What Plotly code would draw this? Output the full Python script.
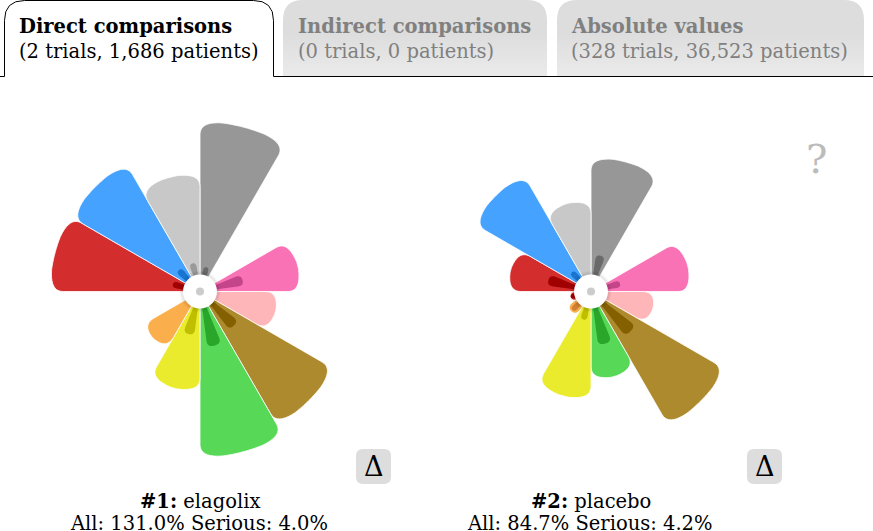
import math

import plotly.graph_objects as go

W, H = 873, 531

# one entry per 30 degree slot, clockwise from north (None = nothing drawn)
categories = ["gray", "gap", "pink", "pale pink", "brown", "green",
              "yellow", "orange", "dark red", "red", "blue", "light gray"]
colors = ["#979797", "#ffffff", "#f972b5", "#ffb6b9", "#ae8a2e", "#57d957",
          "#ebeb2d", "#fbae4c", "#d32d2d", "#d32d2d", "#45a2ff", "#c8c8c8"]
dark_colors = ["#6a6a6a", "#ffffff", "#c4458a", "#d98f92", "#846000", "#2aa72a",
               "#bfbf00", "#d08030", "#a00000", "#a00000", "#1a75d0", "#9a9a9a"]

elagolix_all = [170, None, 101, 78, 154, 166, 100, 66, None, 150, 148, 118]
elagolix_serious = [25, None, 44, None, 48, 56, 44, None, None, 28, 30, 29]
placebo_all = [134, None, 100, 64, 155, 88, 108, 28, 21, 83, 135, 91]
placebo_serious = [37, None, 30, None, 56, 54, 29, 26, 21, 44, 27, None]

tab_titles = ["Direct comparisons", "Indirect comparisons", "Absolute values"]
tab_counts = ["(2 trials, 1,686 patients)", "(0 trials, 0 patients)", "(328 trials, 36,523 patients)"]
rank_labels = ["#1:", "#2:"]
drug_names = ["elagolix", "placebo"]
summaries = ["All: 131.0% Serious: 4.0%", "All: 84.7% Serious: 4.2%"]

FONT = "DejaVu Serif"
SLOT = 30
CENTERS = [200, 591]
CENTER_Y = 291.5
R_MAX = 180


def px_x(x):
    return x / W


def px_y(y):
    return 1 - y / H


def _rounded(x0, y0, x1, y1, r):
    return (f"M{x0},{y1} L{x0},{y0 + r} Q{x0},{y0} {x0 + r},{y0} L{x1 - r},{y0} "
            f"Q{x1},{y0} {x1},{y0 + r} L{x1},{y1}")


def _button(x0, y0, x1, y1, r):
    return (f"M{x0},{y1 - r} L{x0},{y0 + r} Q{x0},{y0} {x0 + r},{y0} L{x1 - r},{y0} "
            f"Q{x1},{y0} {x1},{y0 + r} L{x1},{y1 - r} Q{x1},{y1} {x1 - r},{y1} "
            f"L{x0 + r},{y1} Q{x0},{y1} {x0},{y1 - r} Z")


def wedge(start, end, r, corner):
    """Outline of a slice with rounded outer corners, as (r, theta) lists."""
    c = min(corner, r * 0.35)
    da = min(math.degrees(corner * 1.7 / r), (end - start) * 0.42)

    def xy(rad, ang):
        a = math.radians(ang)
        return rad * math.sin(a), rad * math.cos(a)

    def bend(p0, p1, p2, n=10):
        out = []
        for i in range(n + 1):
            t = i / n
            out.append(((1 - t) ** 2 * p0[0] + 2 * t * (1 - t) * p1[0] + t ** 2 * p2[0],
                        (1 - t) ** 2 * p0[1] + 2 * t * (1 - t) * p1[1] + t ** 2 * p2[1]))
        return out

    pts = [(0.0, 0.0)]
    pts += bend(xy(r - c, start), xy(r, start), xy(r, start + da))
    span = (end - da) - (start + da)
    pts += [xy(r, start + da + span * i / 24) for i in range(1, 24)]
    pts += bend(xy(r, end - da), xy(r, end), xy(r - c, end))
    pts.append((0.0, 0.0))

    rs = [math.hypot(x, y) for x, y in pts]
    ths = [math.degrees(math.atan2(x, y)) % 360 for x, y in pts]
    return rs, ths


def add_flower(fig, all_vals, serious_vals, subplot):
    for i, v in enumerate(all_vals):
        if v is None:
            continue
        rs, ths = wedge(i * SLOT, (i + 1) * SLOT, v, 13)
        fig.add_trace(go.Scatterpolar(
            r=rs, theta=ths, mode="lines", fill="toself", fillcolor=colors[i],
            line=dict(color="white", width=0.8), subplot=subplot,
            name=categories[i], showlegend=False, hoverinfo="skip",
        ))
    for i, v in enumerate(serious_vals):
        if v is None:
            continue
        mid = (i + 0.5) * SLOT
        rs, ths = wedge(mid - 7.5, mid + 7.5, v, 6)
        fig.add_trace(go.Scatterpolar(
            r=rs, theta=ths, mode="lines", fill="toself", fillcolor=dark_colors[i],
            line=dict(color=dark_colors[i], width=0), subplot=subplot,
            name=categories[i], showlegend=False, hoverinfo="skip",
        ))
    # hub: soft shadow, white disc, grey dot
    for size, col in [(42, "rgba(0,0,0,0.02)"), (40, "rgba(0,0,0,0.03)"), (38, "rgba(0,0,0,0.04)"),
                      (34, "white"), (8, "#cccccc")]:
        fig.add_trace(go.Scatterpolar(
            r=[0], theta=[0], mode="markers", subplot=subplot, showlegend=False, hoverinfo="skip",
            marker=dict(size=size, color=col, line=dict(width=0)),
        ))


fig = go.Figure()
add_flower(fig, elagolix_all, elagolix_serious, "polar")
add_flower(fig, placebo_all, placebo_serious, "polar2")

polar_common = dict(
    bgcolor="rgba(0,0,0,0)",
    radialaxis=dict(visible=False, range=[0, R_MAX]),
    angularaxis=dict(visible=False, direction="clockwise", rotation=90),
)
shapes = []

# inactive tabs
for x0, x1 in [(283, 547), (557, 864)]:
    shapes.append(dict(type="path", path=_rounded(x0, 0, x1, 76, 20), fillcolor="#dddddd",
                       line=dict(width=0), xref="x", yref="y"))
# fade at the bottom of the tab bar
for k in range(14):
    y0 = 36 + k * 3
    shapes.append(dict(type="rect", x0=0, x1=W, y0=y0, y1=76, fillcolor="#f4f4f4",
                       opacity=0.045, line=dict(width=0), xref="x", yref="y"))
# active tab and bar line
shapes.append(dict(type="path", path=_rounded(4.5, 0.5, 273.5, 76.5, 20), fillcolor="white",
                   line=dict(color="black", width=1), xref="x", yref="y"))
shapes.append(dict(type="line", x0=0, x1=4.5, y0=76.5, y1=76.5,
                   line=dict(color="black", width=1), xref="x", yref="y"))
shapes.append(dict(type="line", x0=273.5, x1=W, y0=76.5, y1=76.5,
                   line=dict(color="black", width=1), xref="x", yref="y"))
shapes.append(dict(type="rect", x0=5, x1=273, y0=70, y1=78, fillcolor="white",
                   line=dict(width=0), xref="x", yref="y"))

# delta buttons
for x0 in [356, 747]:
    shapes.append(dict(type="path", path=_button(x0, 449, x0 + 35, 484, 7), fillcolor="#dddddd",
                       line=dict(width=0), xref="x", yref="y"))

ann = []


def label(x, y, text, size, color="black", anchor="left"):
    ann.append(dict(x=px_x(x), y=px_y(y), xref="paper", yref="paper", text=text, showarrow=False,
                    xanchor=anchor, yanchor="middle", borderpad=0, borderwidth=0,
                    font=dict(family=FONT, size=size, color=color)))


for i, x in enumerate([19, 298, 571]):
    col = "black" if i == 0 else "#808080"
    label(x, 27, f"<b>{tab_titles[i]}</b>", 19.5, col)
    label(x, 51, tab_counts[i], 19.5, col)

for i, cx in enumerate(CENTERS):
    label(cx - 0.5, 501, f"<b>{rank_labels[i]}</b> {drug_names[i]}", 19.5, anchor="center")
    label(cx - 1, 523, summaries[i], 19.5, anchor="center")
    label(cx + 174, 466, "Δ", 27, anchor="center")

label(816, 159, "?", 40, "#bbbbbb", anchor="center")

fig.update_layout(
    width=W, height=H,
    margin=dict(l=0, r=0, t=0, b=0),
    paper_bgcolor="white", plot_bgcolor="rgba(0,0,0,0)",
    showlegend=False,
    xaxis=dict(visible=False, range=[0, W], domain=[0, 1], fixedrange=True),
    yaxis=dict(visible=False, range=[H, 0], domain=[0, 1], fixedrange=True),
    polar=dict(domain=dict(x=[px_x(CENTERS[0] - R_MAX), px_x(CENTERS[0] + R_MAX)],
                           y=[px_y(CENTER_Y + R_MAX), px_y(CENTER_Y - R_MAX)]), **polar_common),
    polar2=dict(domain=dict(x=[px_x(CENTERS[1] - R_MAX), px_x(CENTERS[1] + R_MAX)],
                            y=[px_y(CENTER_Y + R_MAX), px_y(CENTER_Y - R_MAX)]), **polar_common),
    shapes=shapes,
    annotations=ann,
)

fig.write_html("out.html", config=dict(displayModeBar=False),
               post_script="document.body.style.margin='0';")
